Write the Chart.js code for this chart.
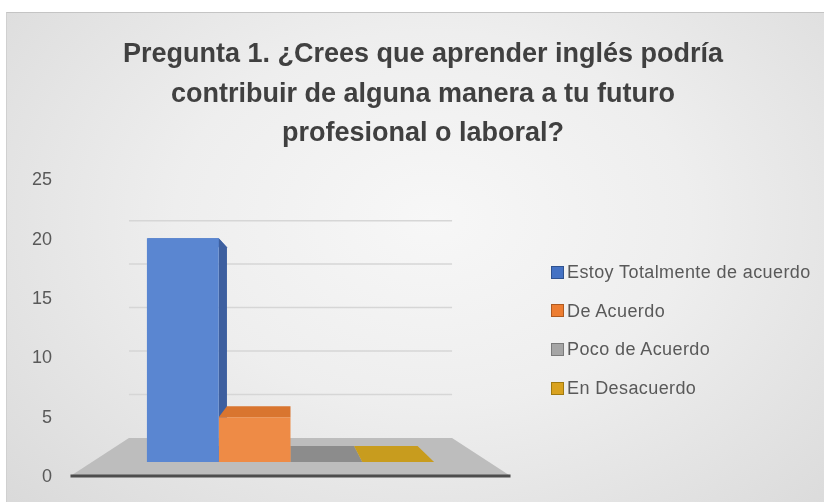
<!DOCTYPE html>
<html><head><meta charset="utf-8">
<script src="https://cdn.jsdelivr.net/npm/chart.js@4/dist/chart.umd.min.js"></script>
<style>
html,body{margin:0;padding:0;background:#fff;}
#wrap{position:relative;width:824px;height:502px;overflow:hidden;}
#frame{position:absolute;left:6px;top:12px;width:818px;height:490px;border-top:1px solid #c4c4c4;border-left:1px solid #d0d0d0;
 background:radial-gradient(ellipse 70% 85% at 52% 42%, #f7f7f7 0%, #eeeeee 45%, #dadada 100%);}
#c{position:absolute;left:0;top:0;}
#legend{position:absolute;left:0;top:0;font-family:'Liberation Sans',Arial,sans-serif;font-size:18px;color:#595959;}
.li{position:absolute;white-space:nowrap;letter-spacing:0.4px;line-height:20px;}
.bx{position:absolute;width:11px;height:11px;border:1px solid;}
</style></head>
<body><div id="wrap"><div id="frame"></div><canvas id="c" width="824" height="502"></canvas><div id="legend"></div></div>
<script>
const titleLines = ['Pregunta 1. ¿Crees que aprender inglés podría','contribuir de alguna manera a tu futuro','profesional o laboral?'];
const categories = ['Pregunta 1'];
const seriesLabels = ['Estoy Totalmente de acuerdo','De Acuerdo','Poco de Acuerdo','En Desacuerdo'];
const seriesValues = [20, 4, 0, 0];
const yTicks = [0, 5, 10, 15, 20, 25];

const frontColors = ['#5A86D1','#EE8B46','#8C8C8C','#C89C1E'];
const sideColors  = ['#3D5F9F','#C9702F','#6E6E6E','#A07C14'];
const topColors   = ['#4F78C0','#D9752F','#7E7E7E','#B58C18'];
const boxColors   = ['#4472C4','#ED7D31','#A5A5A5','#D9A21F'];
const boxBorders  = ['#2F528F','#AE5A21','#7A7A7A','#A07A10'];

function poly(ctx, pts, fill){
  ctx.beginPath(); ctx.moveTo(pts[0][0], pts[0][1]);
  for (let i=1;i<pts.length;i++) ctx.lineTo(pts[i][0], pts[i][1]);
  ctx.closePath(); ctx.fillStyle = fill; ctx.fill();
}

const depth3d = {
  id: 'depth3d',
  beforeDatasetsDraw(chart){
    const ctx = chart.ctx, a = chart.chartArea, ys = chart.scales.y;
    const y0 = ys.getPixelForValue(0);
    const cx = (a.left + a.right) / 2;
    const plane = (kx, ky, base) => (x, y) => [cx + (x - cx) * kx, base + (y - y0) * ky];
    const floorFront = plane(1.114, 1, a.bottom - 1);
    const floorBack  = plane(0.818, 0.777, y0 - 24);
    const barBack    = plane(0.885, 0.888, y0 - 16);
    ctx.save();
    poly(ctx, [floorFront(a.left, y0), floorFront(a.right, y0), floorBack(a.right, y0), floorBack(a.left, y0)], '#bdbdbd');
    const f1 = floorFront(a.left, y0), f2 = floorFront(a.right, y0);
    ctx.strokeStyle = '#4d4d4d'; ctx.lineWidth = 3;
    ctx.beginPath(); ctx.moveTo(f1[0], f1[1]); ctx.lineTo(f2[0], f2[1]); ctx.stroke();
    ctx.strokeStyle = '#d6d6d6'; ctx.lineWidth = 1.5;
    yTicks.filter(v => v > 0).forEach(v => {
      const y = ys.getPixelForValue(v);
      const p1 = floorBack(a.left, y), p2 = floorBack(a.right, y);
      ctx.beginPath(); ctx.moveTo(p1[0], p1[1]); ctx.lineTo(p2[0], p2[1]); ctx.stroke();
    });
    chart.data.datasets.forEach((ds, i) => {
      chart.getDatasetMeta(i).data.forEach(bar => {
        const x1 = bar.x - bar.width / 2, x2 = bar.x + bar.width / 2;
        const yt = bar.y, yb = bar.base;
        poly(ctx, [[x1, yb], [x2, yb], barBack(x2, yb), barBack(x1, yb)], frontColors[i]);
        if (yt < yb - 0.5) {
          poly(ctx, [[x1, yt], [x2, yt], barBack(x2, yt), barBack(x1, yt)], topColors[i]);
          if (x2 < cx - 1) poly(ctx, [[x2, yt], [x2, yb], barBack(x2, yb), barBack(x2, yt)], sideColors[i]);
        }
      });
    });
    ctx.restore();
  }
};

const chart = new Chart(document.getElementById('c'), {
  type: 'bar',
  data: {
    labels: categories,
    datasets: seriesLabels.map((lab, i) => ({
      label: lab, data: [seriesValues[i]], backgroundColor: frontColors[i], borderWidth: 0, yAxisID: 'y'
    }))
  },
  options: {
    responsive: false, animation: false, devicePixelRatio: 1,
    layout: { padding: { left: 22, right: 0, top: 0, bottom: 25 } },
    datasets: { bar: { categoryPercentage: 0.727, barPercentage: 1 } },
    plugins: {
      legend: { display: false }, tooltip: { enabled: false },
      title: { display: true, text: titleLines, color: '#404040',
        font: { family: "'Liberation Sans', Arial, sans-serif", size: 27, weight: 'bold', lineHeight: 1.46 },
        padding: { top: 35, bottom: 27 } }
    },
    scales: {
      x: { display: false },
      y: { position: 'right', min: -1.34, max: 25.18, ticks: { display: false }, grid: { display: false }, border: { display: false },
           afterFit(s){ s.width = 336; } },
      y2: { position: 'left', min: 0, max: 25,
            afterBuildTicks(s){ s.ticks = yTicks.map(v => ({ value: v })); },
            ticks: { color: '#595959', padding: 0, font: { family: "'Liberation Sans', Arial, sans-serif", size: 18 } },
            grid: { display: true, color: 'rgba(0,0,0,0)', drawOnChartArea: false, drawTicks: true, tickLength: 41 },
            border: { display: false },
            afterFit(s){ s.width = 71; } }
    }
  },
  plugins: [depth3d]
});

const lg = document.getElementById('legend');
seriesLabels.forEach((lab, i) => {
  const cy = 272 + i * 38.7;
  const b = document.createElement('div'); b.className = 'bx';
  b.style.left = '551px'; b.style.top = (cy - 6.5) + 'px';
  b.style.background = boxColors[i]; b.style.borderColor = boxBorders[i];
  lg.appendChild(b);
  const t = document.createElement('div'); t.className = 'li';
  t.style.left = '567px'; t.style.top = (cy - 10) + 'px'; t.textContent = lab;
  lg.appendChild(t);
});
</script></body></html>
